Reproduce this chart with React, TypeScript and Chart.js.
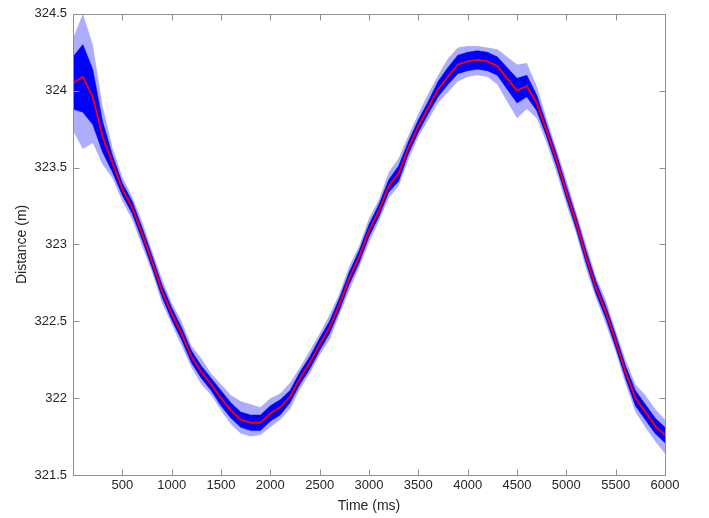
import React, { useEffect, useRef } from "react";
import { Chart, registerables } from "chart.js";

Chart.register(...registerables);

// ---- data ----
const timeMs = [
  0, 100, 200, 300, 400, 500, 600, 700, 800, 900,
  1000, 1100, 1200, 1300, 1400, 1500, 1600, 1700, 1800, 1900,
  2000, 2100, 2200, 2300, 2400, 2500, 2600, 2700, 2800, 2900,
  3000, 3100, 3200, 3300, 3400, 3500, 3600, 3700, 3800, 3900,
  4000, 4100, 4200, 4300, 4400, 4500, 4600, 4700, 4800, 4900,
  5000, 5100, 5200, 5300, 5400, 5500, 5600, 5700, 5800, 5900,
  6000,
];

// red mean trace
const meanDistance = [
  324.05, 324.09, 323.96, 323.70, 323.53, 323.36, 323.24, 323.07, 322.89, 322.70,
  322.55, 322.42, 322.27, 322.17, 322.09, 322.00, 321.92, 321.86, 321.84, 321.84,
  321.90, 321.94, 322.01, 322.13, 322.23, 322.35, 322.46, 322.61, 322.78, 322.92,
  323.09, 323.22, 323.38, 323.46, 323.63, 323.77, 323.89, 324.01, 324.09, 324.17,
  324.19, 324.20, 324.19, 324.16, 324.08, 324.00, 324.03, 323.92, 323.74, 323.55,
  323.34, 323.14, 322.92, 322.72, 322.56, 322.37, 322.17, 322.00, 321.91, 321.82,
  321.76,
];

// dense part of the blue trial traces (upper / lower edge)
const denseUpper = [
  324.22, 324.30, 324.14, 323.80, 323.58, 323.40, 323.28, 323.11, 322.93, 322.74,
  322.59, 322.46, 322.31, 322.21, 322.13, 322.05, 321.97, 321.91, 321.89, 321.89,
  321.95, 321.99, 322.05, 322.17, 322.27, 322.39, 322.50, 322.65, 322.82, 322.96,
  323.13, 323.26, 323.42, 323.51, 323.67, 323.81, 323.93, 324.06, 324.15, 324.23,
  324.25, 324.26, 324.25, 324.22, 324.15, 324.08, 324.10, 323.97, 323.78, 323.59,
  323.38, 323.18, 322.96, 322.76, 322.60, 322.41, 322.21, 322.05, 321.96, 321.87,
  321.81,
];
const denseLower = [
  323.88, 323.86, 323.78, 323.60, 323.47, 323.32, 323.20, 323.03, 322.85, 322.66,
  322.51, 322.38, 322.23, 322.13, 322.05, 321.95, 321.87, 321.81, 321.79, 321.79,
  321.85, 321.89, 321.97, 322.09, 322.19, 322.31, 322.42, 322.57, 322.74, 322.88,
  323.05, 323.18, 323.34, 323.41, 323.59, 323.73, 323.85, 323.96, 324.04, 324.11,
  324.13, 324.14, 324.13, 324.10, 324.01, 323.92, 323.96, 323.87, 323.70, 323.51,
  323.30, 323.10, 322.88, 322.68, 322.52, 322.33, 322.13, 321.95, 321.86, 321.77,
  321.71,
];

// faint outer spread of the blue trial traces
const spreadUpper = [
  324.34, 324.50, 324.30, 323.90, 323.63, 323.44, 323.31, 323.15, 322.96, 322.78,
  322.62, 322.50, 322.34, 322.26, 322.16, 322.09, 322.02, 321.98, 321.96, 321.94,
  322.00, 322.03, 322.10, 322.20, 322.31, 322.42, 322.54, 322.68, 322.86, 322.99,
  323.17, 323.29, 323.47, 323.56, 323.71, 323.85, 323.98, 324.10, 324.21, 324.28,
  324.29, 324.29, 324.28, 324.27, 324.22, 324.17, 324.18, 324.03, 323.82, 323.62,
  323.42, 323.21, 323.00, 322.79, 322.64, 322.44, 322.25, 322.09, 322.02, 321.93,
  321.86,
];
const spreadLower = [
  323.74, 323.62, 323.66, 323.52, 323.43, 323.28, 323.16, 322.99, 322.82, 322.62,
  322.48, 322.34, 322.20, 322.09, 322.02, 321.92, 321.83, 321.77, 321.75, 321.76,
  321.81, 321.86, 321.93, 322.06, 322.16, 322.28, 322.38, 322.54, 322.70, 322.85,
  323.01, 323.15, 323.30, 323.38, 323.55, 323.70, 323.81, 323.92, 323.99, 324.06,
  324.09, 324.10, 324.09, 324.04, 323.93, 323.82, 323.88, 323.82, 323.66, 323.47,
  323.26, 323.07, 322.84, 322.65, 322.48, 322.30, 322.09, 321.91, 321.81, 321.72,
  321.64,
];

const xTicks = [500, 1000, 1500, 2000, 2500, 3000, 3500, 4000, 4500, 5000, 5500, 6000];
const yTicks = [321.5, 322, 322.5, 323, 323.5, 324, 324.5];

const FONT = "'Liberation Sans', Arial, Helvetica, sans-serif";
const TEXT_COLOR = "#262626";
const AXIS_COLOR = "#8f8f8f";

const pts = (vals: number[]) => timeMs.map((t, i) => ({ x: t, y: vals[i] }));

const boxPlugin = {
  id: "matlabBox",
  afterDatasetsDraw(chart: any) {
    const { ctx, chartArea, scales } = chart;
    const L = Math.round(chartArea.left) + 0.5;
    const R = Math.round(chartArea.right) + 0.5;
    const T = Math.round(chartArea.top) + 0.5;
    const B = Math.round(chartArea.bottom) + 0.5;
    const len = 6;
    ctx.save();
    ctx.strokeStyle = AXIS_COLOR;
    ctx.lineWidth = 1;
    ctx.beginPath();
    ctx.rect(L, T, R - L, B - T);
    for (const v of xTicks) {
      const px = Math.round(scales.x.getPixelForValue(v)) + 0.5;
      ctx.moveTo(px, B);
      ctx.lineTo(px, B - len);
      ctx.moveTo(px, T);
      ctx.lineTo(px, T + len);
    }
    for (const v of yTicks) {
      const py = Math.round(scales.y.getPixelForValue(v)) + 0.5;
      ctx.moveTo(L, py);
      ctx.lineTo(L + len, py);
      ctx.moveTo(R, py);
      ctx.lineTo(R - len, py);
    }
    ctx.stroke();
    ctx.restore();
  },
};

export default function App() {
  const canvasRef = useRef<HTMLCanvasElement | null>(null);

  useEffect(() => {
    if (!canvasRef.current) return;
    const chart = new Chart(canvasRef.current, {
      type: "line",
      data: {
        datasets: [
          {
            label: "Mean",
            data: pts(meanDistance),
            borderColor: "#ff0000",
            borderWidth: 1.8,
            pointRadius: 0,
            fill: false,
            tension: 0,
          },
          {
            label: "Trials upper",
            data: pts(denseUpper),
            borderColor: "#0000ff",
            borderWidth: 0.5,
            backgroundColor: "#0000ff",
            pointRadius: 0,
            fill: 2,
            tension: 0,
          },
          {
            label: "Trials lower",
            data: pts(denseLower),
            borderColor: "#0000ff",
            borderWidth: 0.5,
            pointRadius: 0,
            fill: false,
            tension: 0,
          },
          {
            label: "Spread upper",
            data: pts(spreadUpper),
            borderColor: "rgba(0,0,255,0)",
            borderWidth: 0,
            backgroundColor: "rgba(0,0,255,0.32)",
            pointRadius: 0,
            fill: 4,
            tension: 0,
          },
          {
            label: "Spread lower",
            data: pts(spreadLower),
            borderColor: "rgba(0,0,255,0)",
            borderWidth: 0,
            pointRadius: 0,
            fill: false,
            tension: 0,
          },
        ],
      },
      options: {
        responsive: false,
        animation: false,
        devicePixelRatio: 1,
        layout: { padding: { top: 10, right: 44, bottom: 0, left: 0 } },
        plugins: {
          legend: { display: false },
          tooltip: { enabled: false },
        },
        scales: {
          x: {
            type: "linear",
            min: 0,
            max: 6000,
            grid: { display: false, drawTicks: false },
            border: { display: false },
            afterBuildTicks: (s: any) => {
              s.ticks = xTicks.map((v) => ({ value: v }));
            },
            afterFit: (s: any) => {
              s.height = 43;
            },
            ticks: {
              color: TEXT_COLOR,
              font: { family: FONT, size: 13 },
              padding: 3,
              maxRotation: 0,
              autoSkip: false,
              callback: (v: any) => String(v),
            },
            title: {
              display: true,
              text: "Time (ms)",
              color: TEXT_COLOR,
              font: { family: FONT, size: 14 },
              padding: { top: 0, bottom: 3 },
            },
          },
          y: {
            type: "linear",
            min: 321.5,
            max: 324.5,
            grid: { display: false, drawTicks: false },
            border: { display: false },
            afterBuildTicks: (s: any) => {
              s.ticks = yTicks.map((v) => ({ value: v }));
            },
            afterFit: (s: any) => {
              s.width = 73;
            },
            ticks: {
              color: TEXT_COLOR,
              font: { family: FONT, size: 13 },
              padding: 6,
              autoSkip: false,
              callback: (v: any) => String(v),
            },
            title: {
              display: true,
              text: "Distance (m)",
              color: TEXT_COLOR,
              font: { family: FONT, size: 14 },
              padding: { top: 14, bottom: 0 },
            },
          },
        },
      },
      plugins: [boxPlugin],
    });
    return () => chart.destroy();
  }, []);

  return (
    <div style={{ position: "fixed", left: 0, top: 0, width: 709, height: 518, background: "#fff" }}>
      <canvas ref={canvasRef} width={709} height={518} />
    </div>
  );
}
